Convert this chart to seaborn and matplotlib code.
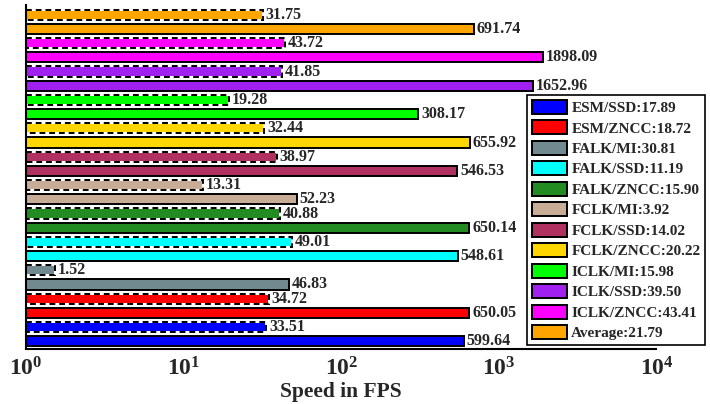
import matplotlib
matplotlib.use('Agg')
import matplotlib.pyplot as plt
import seaborn as sns
import pandas as pd
from matplotlib.patches import Patch, Rectangle

# Methods from bottom to top, as in the chart
methods = ['ESM/SSD', 'ESM/ZNCC', 'FALK/MI', 'FALK/SSD', 'FALK/ZNCC', 'FCLK/MI',
           'FCLK/SSD', 'FCLK/ZNCC', 'ICLK/MI', 'ICLK/SSD', 'ICLK/ZNCC', 'Average']
fast_fps = [599.64, 650.05, 46.83, 548.61, 650.14, 52.23,
            546.53, 655.92, 308.17, 1652.96, 1898.09, 691.74]
slow_fps = [33.51, 34.72, 1.52, 49.01, 40.88, 13.31,
            38.97, 32.44, 19.28, 41.85, 43.72, 31.75]
speedup = ['17.89', '18.72', '30.81', '11.19', '15.90', '3.92',
           '14.02', '20.22', '15.98', '39.50', '43.41', '21.79']
colors = ['#0000FF', '#FF0000', '#708A90', '#00FFFF', '#228B22', '#C9AC96',
          '#B03060', '#FFD700', '#00FF00', '#A020F0', '#FF00FF', '#FFA500']

# build long table, top row first (seaborn puts first category on top)
rows = []
for m, f, s, c in zip(methods, fast_fps, slow_fps, colors):
    rows.append({'bar': m + ' fast', 'fps': f, 'color': c, 'dashed': False})
    rows.append({'bar': m + ' slow', 'fps': s, 'color': c, 'dashed': True})
df = pd.DataFrame(rows[::-1])
order = list(df['bar'])
palette = dict(zip(df['bar'], df['color']))

sns.set_style('white')
plt.rcParams['font.family'] = ['Liberation Serif', 'DejaVu Serif']
plt.rcParams['font.weight'] = 'bold'

fig = plt.figure(figsize=(7.1, 4.04), dpi=100)
ax = fig.add_axes([0.0366, 0.136, 0.888, 0.852])

sns.barplot(data=df, x='fps', y='bar', hue='bar', order=order, hue_order=order,
            palette=palette, width=0.72, legend=False, ax=ax,
            edgecolor='black', linewidth=1.4, saturation=1)
ax.set_xscale('log')

for cont, dashed in zip(ax.containers, df['dashed']):
    for p in cont:
        # bars start at 1 (10^0) on the log axis
        right = p.get_x() + p.get_width()
        p.set_x(1)
        p.set_width(right - 1)
        if dashed:
            # white solid edge under a black dashed outline
            p.set_edgecolor('white')
            ax.add_patch(Rectangle(p.get_xy(), p.get_width(), p.get_height(),
                                   fill=False, edgecolor='black', linewidth=1.4,
                                   linestyle=(0, (3, 2)), zorder=p.get_zorder() + 0.1))
    ax.bar_label(cont, fmt='%.2f', padding=2, fontsize=11.5, fontweight='bold')

ax.set_xlim(1, 1e4)
ax.set_ylim(len(order) - 0.45, -0.7)
ax.set_yticks([])
ax.set_ylabel('')
ax.set_xlabel('Speed in FPS', fontsize=15.5, fontweight='bold', labelpad=1)
ax.tick_params(axis='x', which='major', direction='in', length=5, width=1,
               labelsize=17, pad=6)
ax.tick_params(axis='x', which='minor', direction='in', length=3, width=0.8)
for side in ['top', 'right']:
    ax.spines[side].set_visible(False)
for side in ['left', 'bottom']:
    ax.spines[side].set_color('black')
    ax.spines[side].set_linewidth(1.5)

handles = [Patch(facecolor=c, edgecolor='black', linewidth=1.4) for c in colors]
labels = [f'{m}:{v}' for m, v in zip(methods, speedup)]
leg = ax.legend(handles, labels, loc='lower right', bbox_to_anchor=(0.993, 0.146),
                bbox_transform=fig.transFigure, fancybox=False, framealpha=1,
                edgecolor='black', fontsize=11, handlelength=2.3, handleheight=1.05,
                labelspacing=0.34, handletextpad=0.3, borderpad=0.3, borderaxespad=0)
leg.get_frame().set_linewidth(1.2)
for t in leg.get_texts():
    t.set_fontweight('bold')

fig.savefig('out.png', dpi=100)
